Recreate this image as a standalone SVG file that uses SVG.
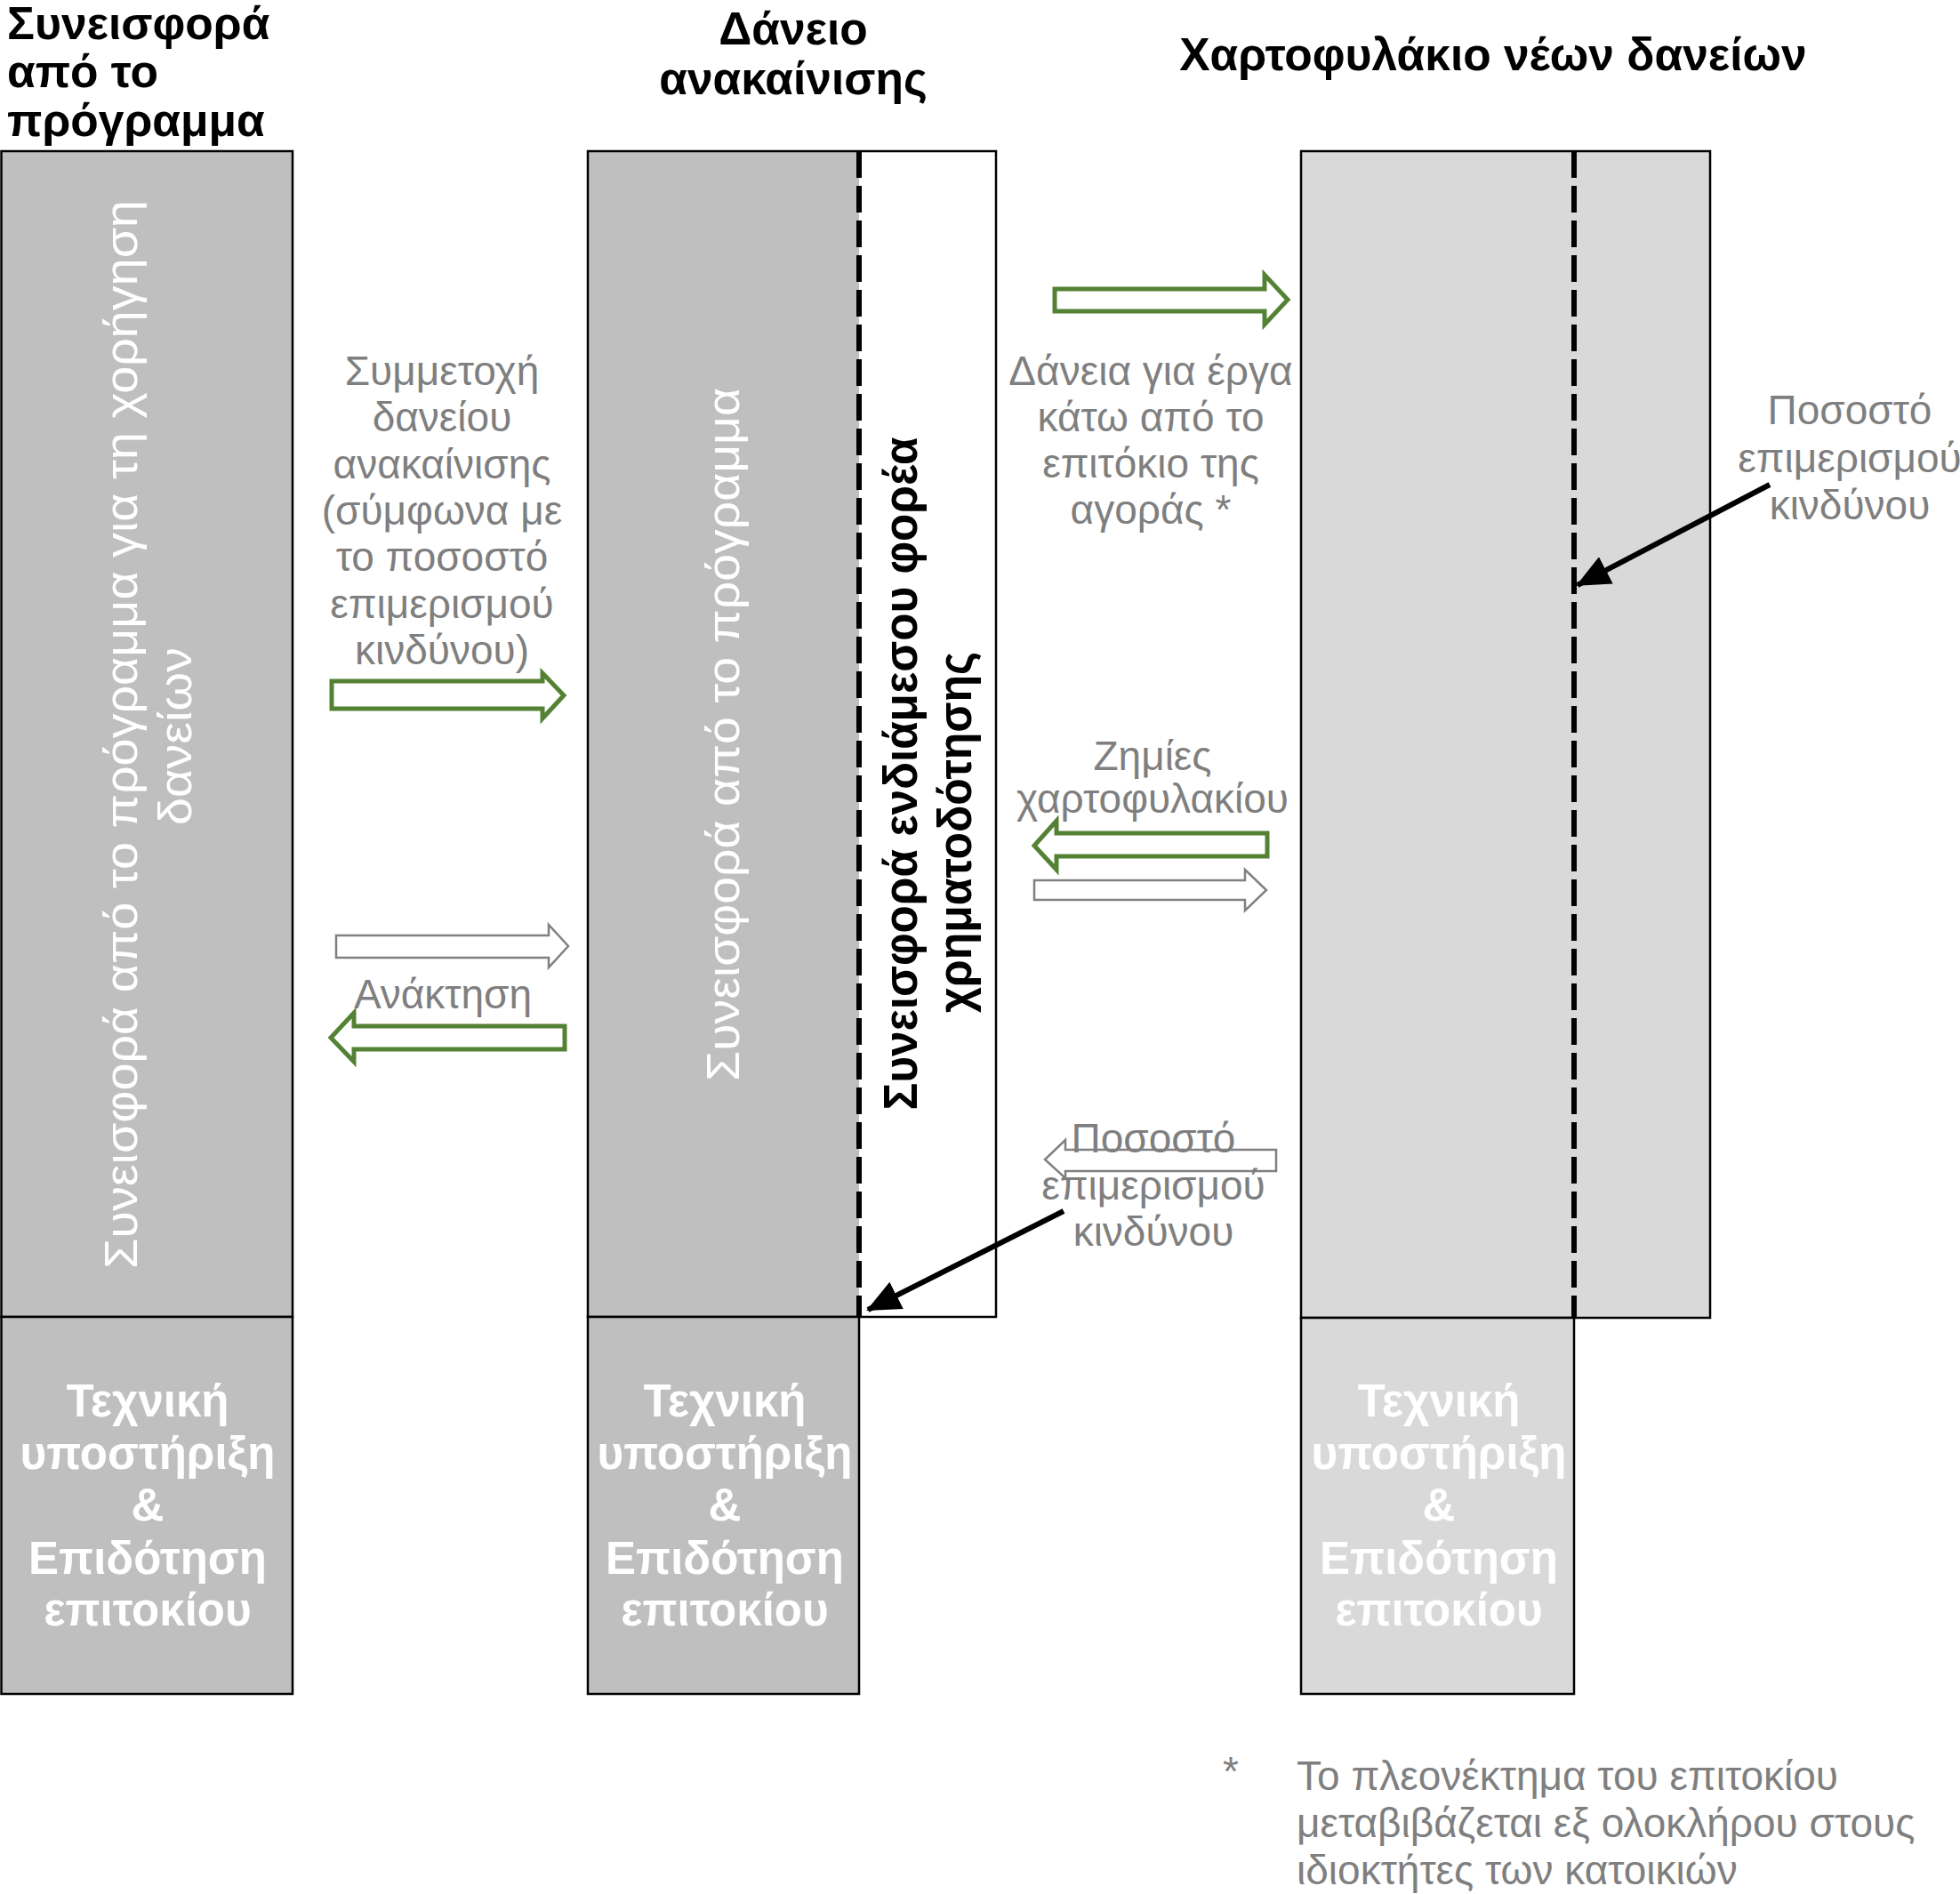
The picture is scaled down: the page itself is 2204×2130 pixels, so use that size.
<svg xmlns="http://www.w3.org/2000/svg" width="2204" height="2130" viewBox="0 0 2204 2130">
<style>
.title{font-family:"Liberation Sans",Arial,sans-serif;font-weight:bold;font-size:51.5px;fill:#000}
.lbl{font-family:"Liberation Sans",Arial,sans-serif;font-size:46px;fill:#7f7f7f;text-anchor:middle}
.rot{font-family:"Liberation Sans",Arial,sans-serif;font-size:52px;fill:#fff;text-anchor:middle}
.rotb{font-family:"Liberation Sans",Arial,sans-serif;font-weight:bold;font-size:53px;fill:#000;text-anchor:middle}
.bt{font-family:"Liberation Sans",Arial,sans-serif;font-weight:bold;font-size:51px;fill:#fff;text-anchor:middle}
.g1{fill:#bfbfbf;stroke:#000;stroke-width:2.5}
.g2{fill:#d9d9d9;stroke:#000;stroke-width:2.5}
.dash{stroke:#000;stroke-width:6;stroke-dasharray:30 9;fill:none}
.ga{fill:#fff;stroke:#548235;stroke-width:5;stroke-linejoin:miter}
.gy{fill:#fff;stroke:#808080;stroke-width:2.5;stroke-linejoin:miter}
.ptr{stroke:#000;stroke-width:6;fill:none}
.foot{font-family:"Liberation Sans",Arial,sans-serif;font-size:46px;fill:#7f7f7f}
</style>
<defs>
<marker id="ah" markerUnits="userSpaceOnUse" markerWidth="40" markerHeight="34" refX="36" refY="17" orient="auto">
<path d="M0,0 L38,17 L0,34 Z" fill="#000"/>
</marker>
</defs>

<g id="title-program">
<text class="title" x="8" y="44">Συνεισφορά</text>
<text class="title" x="8" y="98">από το</text>
<text class="title" x="8" y="153">πρόγραμμα</text>
</g>
<g id="title-loan">
<text class="title" x="892" y="50" text-anchor="middle">Δάνειο</text>
<text class="title" x="892" y="106" text-anchor="middle">ανακαίνισης</text>
</g>
<g id="title-portfolio">
<text class="title" x="1679" y="79" text-anchor="middle">Χαρτοφυλάκιο νέων δανείων</text>
</g>

<g id="node-program">
<rect class="g1" x="1.5" y="170" width="327.5" height="1311"/>
<text class="rot" transform="translate(154,826) rotate(-90)" textLength="1202" lengthAdjust="spacingAndGlyphs">Συνεισφορά από το πρόγραμμα για τη χορήγηση</text>
<text class="rot" transform="translate(215,828) rotate(-90)" textLength="200" lengthAdjust="spacingAndGlyphs">δανείων</text>
</g>
<g id="node-program-support">
<rect class="g1" x="1.5" y="1481" width="327.5" height="424"/>
<text class="bt" x="166" y="1593">Τεχνική</text>
<text class="bt" x="166" y="1652">υποστήριξη</text>
<text class="bt" x="166" y="1710">&amp;</text>
<text class="bt" x="166" y="1770">Επιδότηση</text>
<text class="bt" x="166" y="1828">επιτοκίου</text>
</g>

<g id="node-loan">
<rect x="661" y="170" width="459" height="1311" fill="#fff" stroke="none"/>
<rect x="661" y="170" width="305" height="1311" fill="#bfbfbf" stroke="none"/>
<rect x="661" y="170" width="459" height="1311" fill="none" stroke="#000" stroke-width="2.5"/>
<line class="dash" x1="966" y1="170" x2="966" y2="1481"/>
<text class="rot" transform="translate(831,826) rotate(-90)" textLength="780" lengthAdjust="spacingAndGlyphs">Συνεισφορά από το πρόγραμμα</text>
<text class="rotb" transform="translate(1031,870) rotate(-90)" textLength="757" lengthAdjust="spacingAndGlyphs">Συνεισφορά ενδιάμεσου φορέα</text>
<text class="rotb" transform="translate(1092,936) rotate(-90)" textLength="406" lengthAdjust="spacingAndGlyphs">χρηματοδότησης</text>
</g>
<g id="node-loan-support">
<rect class="g1" x="661" y="1481" width="305" height="424"/>
<text class="bt" x="815" y="1593">Τεχνική</text>
<text class="bt" x="815" y="1652">υποστήριξη</text>
<text class="bt" x="815" y="1710">&amp;</text>
<text class="bt" x="815" y="1770">Επιδότηση</text>
<text class="bt" x="815" y="1828">επιτοκίου</text>
</g>

<g id="node-portfolio">
<rect class="g2" x="1463" y="170" width="460" height="1312"/>
<line class="dash" x1="1770" y1="170" x2="1770" y2="1482"/>
</g>
<g id="node-portfolio-support">
<rect class="g2" x="1463" y="1482" width="307" height="423"/>
<text class="bt" x="1618" y="1593">Τεχνική</text>
<text class="bt" x="1618" y="1652">υποστήριξη</text>
<text class="bt" x="1618" y="1710">&amp;</text>
<text class="bt" x="1618" y="1770">Επιδότηση</text>
<text class="bt" x="1618" y="1828">επιτοκίου</text>
</g>

<g id="connectors">
<polygon class="ga" points="373,766 610,766 610,757 634,782 610,808 610,797 373,797"/>
<polygon class="gy" points="378,1052 617,1052 617,1040 639,1064 617,1088 617,1077 378,1077"/>
<polygon class="ga" points="635,1154 398,1154 398,1139 372,1167 398,1194 398,1180 635,1180"/>
<polygon class="ga" points="1186,325 1422,325 1422,309 1448,337 1422,365 1422,350 1186,350"/>
<polygon class="ga" points="1425,937 1188,937 1188,923 1163,951 1188,978 1188,963 1425,963"/>
<polygon class="gy" points="1163,990 1400,990 1400,978 1424,1001 1400,1024 1400,1012 1163,1012"/>
<polygon class="gy" points="1435,1293 1198,1293 1198,1282 1175,1304 1198,1325 1198,1317 1435,1317"/>
<line class="ptr" x1="1990" y1="545" x2="1774" y2="658" marker-end="url(#ah)"/>
<line class="ptr" x1="1196" y1="1362" x2="976" y2="1473" marker-end="url(#ah)"/>
</g>

<g id="label-participation">
<text class="lbl" x="497" y="433">Συμμετοχή</text>
<text class="lbl" x="497" y="485">δανείου</text>
<text class="lbl" x="497" y="538">ανακαίνισης</text>
<text class="lbl" x="497" y="590">(σύμφωνα με</text>
<text class="lbl" x="497" y="642">το ποσοστό</text>
<text class="lbl" x="497" y="695">επιμερισμού</text>
<text class="lbl" x="497" y="747">κινδύνου)</text>
</g>
<g id="label-recovery">
<text class="lbl" x="498" y="1134">Ανάκτηση</text>
</g>
<g id="label-loans">
<text class="lbl" x="1294" y="433">Δάνεια για έργα</text>
<text class="lbl" x="1294" y="485">κάτω από το</text>
<text class="lbl" x="1294" y="537">επιτόκιο της</text>
<text class="lbl" x="1294" y="589">αγοράς *</text>
</g>
<g id="label-losses">
<text class="lbl" x="1296" y="866">Ζημίες</text>
<text class="lbl" x="1296" y="914">χαρτοφυλακίου</text>
</g>
<g id="label-risk-lower">
<text class="lbl" x="1297" y="1296">Ποσοστό</text>
<text class="lbl" x="1297" y="1349">επιμερισμού</text>
<text class="lbl" x="1297" y="1401">κινδύνου</text>
</g>
<g id="label-risk-right">
<text class="lbl" x="2080" y="477">Ποσοστό</text>
<text class="lbl" x="2080" y="531">επιμερισμού</text>
<text class="lbl" x="2080" y="584">κινδύνου</text>
</g>
<g id="footnote">
<text class="foot" x="1375" y="2008">*</text>
<text class="foot" x="1458" y="2013">Το πλεονέκτημα του επιτοκίου</text>
<text class="foot" x="1458" y="2066">μεταβιβάζεται εξ ολοκλήρου στους</text>
<text class="foot" x="1458" y="2119">ιδιοκτήτες των κατοικιών</text>
</g>
</svg>
